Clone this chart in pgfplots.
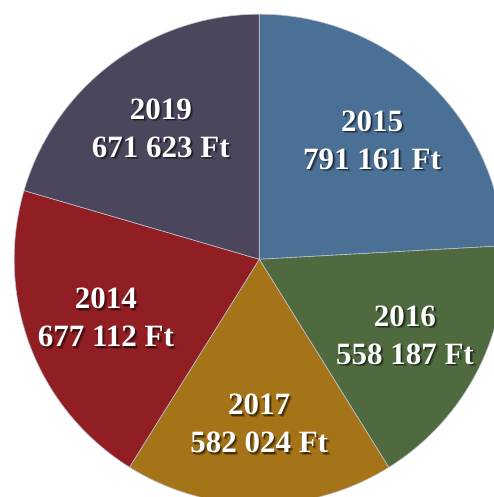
\documentclass[border=0pt]{standalone}
\usepackage{pgfplots}
\pgfplotsset{compat=1.18}
\usepackage{pgfplotstable}
\usepackage{fontspec}
\setmainfont{Liberation Serif}

\definecolor{c2015}{RGB}{74,112,150}
\definecolor{c2016}{RGB}{78,106,62}
\definecolor{c2017}{RGB}{166,116,24}
\definecolor{c2014}{RGB}{145,30,35}
\definecolor{c2019}{RGB}{76,70,92}
\definecolor{edgecol}{RGB}{190,195,210}

% slices in drawing order, clockwise from 12 o'clock
\pgfplotstableread{
year value color
2015 791161 c2015
2016 558187 c2016
2017 582024 c2017
2014 677112 c2014
2019 671623 c2019
}\piedata

\begin{document}
\begin{tikzpicture}
\pgfplotstablegetrowsof{\piedata}
\pgfmathtruncatemacro\lastrow{\pgfplotsretval-1}
\def\total{0}
\pgfplotsforeachungrouped \i in {0,...,\lastrow}{%
  \pgfplotstablegetelem{\i}{value}\of\piedata
  \edef\total{\fpeval{\total+\pgfplotsretval}}%
}
\begin{axis}[
  name=pie,
  scale only axis,
  width=494bp, height=497bp,
  xmin=-1.058, xmax=0.958,
  ymin=-0.970, ymax=1.058,
  hide axis,
  clip=true,
]
\def\startang{90}
\pgfplotsforeachungrouped \i in {0,...,\lastrow}{%
  \pgfplotstablegetelem{\i}{value}\of\piedata \let\v\pgfplotsretval
  \pgfplotstablegetelem{\i}{color}\of\piedata \let\col\pgfplotsretval
  \edef\endang{\fpeval{\startang-360*\v/\total}}%
  \edef\temp{\noexpand\fill[\col, draw=edgecol, line width=0.6pt]
    (0,0) -- ({cos(\startang)},{sin(\startang)})
    arc[start angle=\startang, end angle=\endang, radius=1] -- cycle;}%
  \temp
  \let\startang\endang
}
\def\startang{90}
\pgfplotsforeachungrouped \i in {0,...,\lastrow}{%
  \pgfplotstablegetelem{\i}{value}\of\piedata \let\v\pgfplotsretval
  \pgfplotstablegetelem{\i}{year}\of\piedata \let\yr\pgfplotsretval
  \edef\endang{\fpeval{\startang-360*\v/\total}}%
  \edef\midang{\fpeval{(\startang+\endang)/2}}%
  \edef\lx{\fpeval{0.67*cosd(\midang)}}%
  \edef\ly{\fpeval{0.67*sind(\midang)}}%
  \edef\temp{%
    \noexpand\node[align=center, text=black, opacity=0.25, xshift=2.6pt, yshift=-2.6pt,
      font=\noexpand\fontsize{31bp}{38bp}\noexpand\selectfont\noexpand\bfseries]
      at (\lx,\ly) {\yr\noexpand\\\noexpand\pgfmathprintnumber[fixed,precision=0,assume math mode=true,1000 sep={\noexpand\ }]{\v}~Ft};
    \noexpand\node[align=center, text=black, opacity=0.45, xshift=1.4pt, yshift=-1.4pt,
      font=\noexpand\fontsize{31bp}{38bp}\noexpand\selectfont\noexpand\bfseries]
      at (\lx,\ly) {\yr\noexpand\\\noexpand\pgfmathprintnumber[fixed,precision=0,assume math mode=true,1000 sep={\noexpand\ }]{\v}~Ft};
    \noexpand\node[align=center, text=white,
      font=\noexpand\fontsize{31bp}{38bp}\noexpand\selectfont\noexpand\bfseries]
      at (\lx,\ly) {\yr\noexpand\\\noexpand\pgfmathprintnumber[fixed,precision=0,assume math mode=true,1000 sep={\noexpand\ }]{\v}~Ft};
  }%
  \temp
  \let\startang\endang
}
\end{axis}
\pgfresetboundingbox
\path[use as bounding box] (pie.south west) rectangle (pie.north east);
\end{tikzpicture}
\end{document}
